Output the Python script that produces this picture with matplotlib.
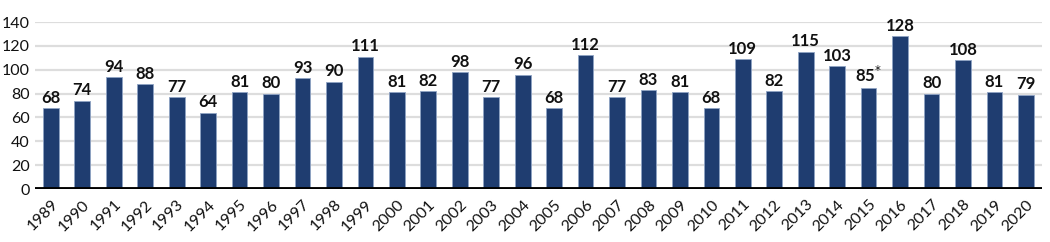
import matplotlib.pyplot as plt
import numpy as np

years = [str(y) for y in range(1989, 2021)]
values = [68, 74, 94, 88, 77, 64, 81, 80, 93, 90, 111, 81, 82, 98, 77, 96,
          68, 112, 77, 83, 81, 68, 109, 82, 115, 103, 85, 128, 80, 108, 81, 79]
labels = [str(v) for v in values]
labels[years.index('2015')] = '85$^{*}$'

plt.rcParams['font.family'] = ['Lato', 'DejaVu Sans']

fig = plt.figure(figsize=(10.5, 2.42), dpi=100)
ax = fig.add_axes([0.0335, 0.219, 0.9585, 0.69])

x = np.arange(len(years))
ax.bar(x, values, width=0.5, color='#1f3d70', edgecolor='#8fa3c4', linewidth=0.6, zorder=3)
for xi, v, lab in zip(x, values, labels):
    ax.text(xi, v + 2, lab, ha='center', va='bottom', fontsize=12,
            fontweight='bold', color='#111111', clip_on=False)

ax.set_xlim(-0.5, len(years) - 0.5)
ax.set_ylim(0, 140)
ax.set_yticks(range(0, 141, 20))
ax.yaxis.grid(True, color='#dddddd', linewidth=1.6, zorder=0)
ax.axhline(0, color='black', linewidth=3.5, zorder=4)
for s in ax.spines.values():
    s.set_visible(False)
ax.tick_params(axis='both', length=0, labelsize=11.5, colors='#111111')
ax.tick_params(axis='y', pad=4)
ax.set_xticks(x)
ax.set_xticklabels(years, rotation=45, ha='right', rotation_mode='anchor')
ax.tick_params(axis='x', pad=6)

fig.savefig('out.png', dpi=100)
